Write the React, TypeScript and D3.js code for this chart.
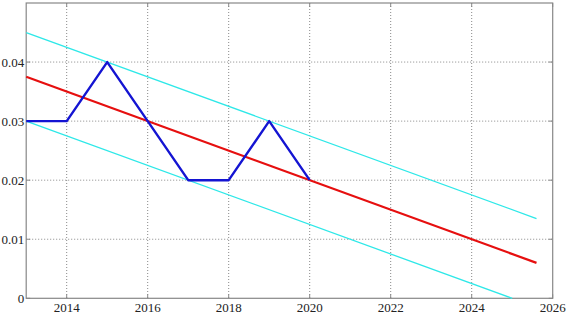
import React from "react";
import * as d3 from "d3";

const years = [2013, 2014, 2015, 2016, 2017, 2018, 2019, 2020];
const values = [0.03, 0.03, 0.04, 0.03, 0.02, 0.02, 0.03, 0.02];
const trendX = [2013, 2025.6];
const trendY = [0.0375, 0.006];
const upperX = [2013, 2025.6];
const upperY = [0.045, 0.0135];
const lowerX = [2013, 2025];
const lowerY = [0.03, 0.0];
const xTicks = [2014, 2016, 2018, 2020, 2022, 2024, 2026];
const yTicks = [0, 0.01, 0.02, 0.03, 0.04];

const W = 568, H = 314;
const L = 26.2, R = 552.7, T = 3, B = 298.3;

export default function App() {
  const x = d3.scaleLinear().domain([2013, 2026]).range([L, R]);
  const y = d3.scaleLinear().domain([0, 0.05]).range([B, T]);
  const line = d3.line<[number, number]>().x(d => x(d[0])).y(d => y(d[1]));
  const pts = (xs: number[], ys: number[]) => xs.map((v, i) => [v, ys[i]] as [number, number]);
  const font = "Liberation Serif, DejaVu Serif, serif";
  return (
    <svg width={W} height={H} style={{ position: "absolute", left: 0, top: 0, background: "#fff" }}>
      <rect x={0} y={0} width={W} height={H} fill="#fff" />
      {xTicks.filter(t => t < 2026).map(t => (
        <line key={"gx" + t} x1={x(t)} x2={x(t)} y1={T} y2={B} stroke="#888" strokeWidth={1} strokeDasharray="1,2" />
      ))}
      {yTicks.filter(t => t > 0).map(t => (
        <line key={"gy" + t} x1={L} x2={R} y1={y(t)} y2={y(t)} stroke="#888" strokeWidth={1} strokeDasharray="1,2" />
      ))}
      <rect x={L} y={T} width={R - L} height={B - T} fill="none" stroke="#888" strokeWidth={1.2} />
      {xTicks.map(t => (
        <g key={"tx" + t}>
          <line x1={x(t)} x2={x(t)} y1={B} y2={B - 4} stroke="#888" />
          <line x1={x(t)} x2={x(t)} y1={T} y2={T + 4} stroke="#888" />
          <text x={x(t)} y={311.5} textAnchor="middle" style={{ fontFamily: font, fontSize: "13px" }} fill="#222">{t}</text>
        </g>
      ))}
      {yTicks.map(t => (
        <g key={"ty" + t}>
          <line x1={L} x2={L + 4} y1={y(t)} y2={y(t)} stroke="#888" />
          <line x1={R} x2={R - 4} y1={y(t)} y2={y(t)} stroke="#888" />
          <text x={L - 2} y={y(t) + 4.5} textAnchor="end" style={{ fontFamily: font, fontSize: "13px" }} fill="#222">{t === 0 ? "0" : t.toFixed(2)}</text>
        </g>
      ))}
      <path d={line(pts(upperX, upperY)) || ""} fill="none" stroke="#2ee8e8" strokeWidth={1.3} />
      <path d={line(pts(lowerX, lowerY)) || ""} fill="none" stroke="#2ee8e8" strokeWidth={1.3} />
      <path d={line(pts(trendX, trendY)) || ""} fill="none" stroke="#e60f0f" strokeWidth={2.2} />
      <path d={line(pts(years, values)) || ""} fill="none" stroke="#1414d2" strokeWidth={2.4} strokeLinejoin="round" />
    </svg>
  );
}
